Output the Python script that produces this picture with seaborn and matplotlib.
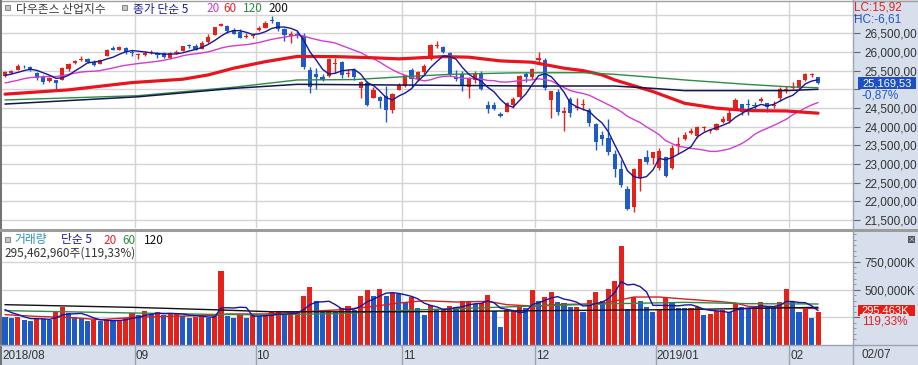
import numpy as np
import pandas as pd
import matplotlib
matplotlib.use("Agg")
import matplotlib.pyplot as plt
import seaborn as sns
from matplotlib.patches import Rectangle
from matplotlib.lines import Line2D
from matplotlib.ticker import FixedLocator, MultipleLocator, FuncFormatter

sns.set_style("white")
plt.rcParams['font.family'] = ['Noto Sans CJK KR', 'DejaVu Sans']

# ---------------- data ----------------
dates = (
    ["2018-08-%02d" % d for d in [3, 6, 7, 8, 9, 10, 13, 14, 15, 16, 17, 20, 21, 22, 23, 24, 27, 28, 29, 30, 31]] +
    ["2018-09-%02d" % d for d in [4, 5, 6, 7, 10, 11, 12, 13, 14, 17, 18, 19, 20, 21, 24, 25, 26, 27, 28]] +
    ["2018-10-%02d" % d for d in [1, 2, 3, 4, 5, 8, 9, 10, 11, 12, 15, 16, 17, 18, 19, 22, 23, 24, 25, 26, 29, 30, 31]] +
    ["2018-11-%02d" % d for d in [1, 2, 5, 6, 7, 8, 9, 12, 13, 14, 15, 16, 19, 20, 21, 23, 26, 27, 28, 29, 30]] +
    ["2018-12-%02d" % d for d in [3, 4, 6, 7, 10, 11, 12, 13, 14, 17, 18, 19, 20, 21, 24, 26, 27, 28, 31]] +
    ["2019-01-%02d" % d for d in [2, 3, 4, 7, 8, 9, 10, 11, 14, 15, 16, 17, 18, 22, 23, 24, 25, 28, 29, 30, 31]] +
    ["2019-02-%02d" % d for d in [1, 4, 5, 6, 7]]
)
month_labels = ["2018/08", "09", "10", "11", "12", "2019/01", "02"]

opens = [
    25350, 25440, 25520, 25600, 25590, 25440, 25320, 25220, 25250, 25260,
    25540, 25700, 25790, 25800, 25730, 25680, 25890, 26110, 26060, 26110,
    26000, 25920, 25930, 25980, 25960, 25960, 25850, 25980, 26030, 26170,
    26150, 26080, 26260, 26460, 26700, 26700, 26580, 26530, 26400, 26420,
    26598, 26650, 26850, 26800, 26620, 26430, 26490, 26440, 25520, 25410,
    25320, 25350, 25690, 25720, 25420, 25520, 25030, 25170, 24780, 24800,
    24820, 24450, 24990, 25100, 25530, 25270, 25460, 25800, 26150, 26130,
    25980, 25320, 25400, 25050, 25250, 25400, 24590, 24580, 24350, 24400,
    24570, 24800, 25400, 25330, 25780, 25780, 24720, 24940, 24360, 24740,
    24500, 24570, 24450, 24060, 23780, 23690, 23280, 22870, 22330, 21860,
    22630, 23200, 23150, 22900, 23180, 22880, 23470, 23680, 23820, 23760,
    23960, 23890, 23920, 24130, 24140, 24480, 24600, 24590, 24570, 24680,
    24620, 24540, 24760, 24970, 25030, 25030, 25240, 25380, 25320]
highs = [
    25480, 25520, 25690, 25650, 25620, 25450, 25380, 25330, 25260, 25600,
    25700, 25780, 25890, 25830, 25790, 25810, 26070, 26170, 26170, 26130,
    26040, 25970, 26030, 26060, 25990, 25990, 26000, 26040, 26170, 26220,
    26200, 26300, 26470, 26680, 26770, 26730, 26630, 26620, 26500, 26480,
    26700, 26830, 26950, 26810, 26640, 26560, 26550, 26500, 25600, 25560,
    25400, 25830, 25830, 25760, 25550, 25570, 25230, 25210, 25070, 24830,
    25100, 24900, 25170, 25390, 25580, 25490, 25690, 26200, 26280, 26170,
    26000, 25520, 25500, 25330, 25500, 25500, 24700, 24660, 24400, 24650,
    24800, 25380, 25460, 25560, 26000, 25830, 24960, 25000, 24530, 24800,
    24770, 24730, 24500, 24100, 23880, 24200, 23380, 23100, 22400, 22880,
    23140, 23380, 23330, 23420, 23180, 23520, 23720, 23860, 23960, 24010,
    24010, 23950, 24090, 24290, 24460, 24780, 24600, 24750, 24650, 24800,
    24640, 24700, 25060, 25090, 25190, 25250, 25440, 25440, 25340]
lows = [
    25330, 25400, 25510, 25560, 25490, 25260, 25140, 25200, 24970, 25250,
    25480, 25680, 25770, 25710, 25620, 25670, 25880, 26040, 26040, 25950,
    25900, 25820, 25900, 25950, 25840, 25830, 25800, 25950, 26020, 26110,
    26040, 26070, 26250, 26450, 26690, 26510, 26470, 26360, 26380, 26380,
    26560, 26640, 26780, 26570, 26300, 26250, 26380, 25550, 24900, 25000,
    25210, 25340, 25430, 25290, 25330, 25260, 24760, 24540, 24760, 24500,
    24120, 24370, 24970, 25050, 25050, 25230, 25420, 25780, 26110, 25960,
    25350, 25220, 24950, 24780, 25160, 24980, 24360, 24450, 24270, 24380,
    24500, 24780, 25200, 25280, 25720, 24980, 24240, 24300, 23880, 24270,
    24450, 24450, 24030, 23380, 23500, 23230, 22640, 22390, 21780, 21710,
    22270, 22990, 23000, 22840, 22640, 22870, 23280, 23650, 23800, 23700,
    23890, 23830, 23900, 24100, 24100, 24450, 24300, 24320, 24480, 24660,
    24380, 24500, 24700, 24900, 25000, 25000, 25230, 25330, 25130]
closes = [
    25462.58, 25502.18, 25628.91, 25583.75, 25509.23, 25313.14, 25187.70, 25299.92, 25162.41, 25558.73,
    25669.32, 25758.69, 25822.29, 25733.60, 25656.98, 25790.35, 26049.64, 26064.02, 26124.57, 25986.92,
    25964.82, 25952.48, 25974.99, 25995.87, 25916.54, 25857.07, 25971.06, 25998.92, 26145.99, 26154.67,
    26062.12, 26246.96, 26405.76, 26656.98, 26743.50, 26562.05, 26492.21, 26385.28, 26439.93, 26458.31,
    26651.21, 26773.94, 26828.39, 26627.48, 26447.05, 26486.78, 26430.57, 25598.74, 25052.83, 25339.99,
    25250.55, 25798.42, 25706.68, 25379.45, 25444.34, 25317.41, 25191.43, 24583.42, 24984.55, 24688.31,
    24442.92, 24874.64, 25115.76, 25380.74, 25270.83, 25461.70, 25635.01, 26180.30, 26191.22, 25989.30,
    25387.18, 25286.49, 25080.50, 25289.27, 25413.22, 25017.44, 24465.64, 24464.69, 24285.95, 24640.24,
    24748.73, 25366.43, 25338.84, 25538.46, 25826.43, 25027.07, 24947.67, 24388.95, 24423.26, 24370.24,
    24527.27, 24597.38, 24100.51, 23592.98, 23675.64, 23323.66, 22859.60, 22445.37, 21792.20, 22878.45,
    23138.82, 23062.40, 23327.46, 23346.24, 22686.22, 23433.16, 23531.35, 23787.45, 23879.12, 24001.92,
    23995.95, 23909.84, 24065.59, 24207.16, 24370.10, 24706.35, 24404.48, 24575.62, 24553.24, 24737.20,
    24528.22, 24579.96, 25014.86, 24999.67, 25063.89, 25239.37, 25411.52, 25390.30, 25169.53]
prior_closes = [24776.59, 24919.66, 24700.45, 24924.89, 25019.41, 25064.36, 25119.89, 25199.29,
                25064.50, 25058.12, 25044.29, 25241.94, 25414.10, 25527.07, 25451.06, 25306.83,
                25415.19, 25333.82, 25326.16]

# moving averages (candle index -> value)
ma60_idx = [0, 10, 20, 28, 32, 36, 41, 46, 52, 57, 62, 69, 73, 78, 83, 88, 91, 94, 96, 102, 107, 112, 117, 123, 128]
ma60_val = [24870, 24985, 25180, 25270, 25385, 25565, 25740, 25880, 25875, 25850, 25815, 25875, 25860,
            25760, 25725, 25565, 25500, 25385, 25250, 24940, 24625, 24495, 24430, 24420, 24360]
ma120_idx = [0, 21, 36, 46, 55, 62, 70, 80, 91, 96, 102, 107, 112, 117, 123, 128]
ma120_val = [24715, 24830, 25055, 25250, 25260, 25330, 25400, 25440, 25445, 25400, 25320, 25250, 25190,
             25130, 25070, 25040]
ma200_idx = [0, 21, 36, 46, 62, 83, 96, 102, 107, 123, 128]
ma200_val = [24605, 24800, 25025, 25133, 25115, 25088, 25088, 25025, 24965, 24965, 25000]

# volume in millions of shares
volumes = [
    249, 245, 252, 228, 219, 244, 238, 228, 303, 340,
    289, 249, 245, 213, 222, 213, 228, 219, 228, 244,
    289, 267, 303, 280, 295, 274, 278, 289, 265, 244,
    250, 258, 244, 258, 665, 258, 244, 280, 244, 280,
    258, 262, 295, 304, 273, 280, 294, 445, 523, 394,
    294, 319, 294, 334, 355, 319, 445, 499, 445, 505,
    445, 469, 463, 385, 433, 334, 273, 364, 313, 319,
    355, 343, 394, 400, 370, 375, 454, 304, 163, 313,
    319, 364, 334, 493, 394, 430, 475, 391, 382, 340,
    346, 301, 409, 475, 400, 508, 580, 896, 325, 433,
    400, 340, 294, 325, 424, 391, 334, 330, 336, 343,
    273, 283, 304, 313, 294, 379, 340, 334, 336, 385,
    346, 334, 391, 508, 385, 301, 325, 247.6, 295.463]
prior_volumes = [380, 340, 330, 300]
vma20_idx = [0, 5, 10, 15, 20, 25, 33, 35, 41, 48, 53, 58, 62, 66, 71, 76, 79, 84, 86, 94, 99, 103, 107, 112, 115, 117, 122, 128]
vma20_val = [274, 258, 249, 228, 249, 258, 267, 280, 280, 304, 319, 349, 379, 400, 388, 394, 364, 349, 364,
             373, 433, 433, 415, 394, 379, 349, 340, 328]
vma60_idx = [0, 20, 33, 42, 53, 63, 74, 85, 96, 107, 117, 128]
vma60_val = [310, 289, 276, 272, 284, 313, 334, 355, 373, 385, 373, 370]
vma120_idx = [0, 20, 33, 42, 63, 85, 96, 107, 117, 128]
vma120_val = [364, 340, 318, 300, 300, 310, 315, 320, 330, 340]

# ---------------- derived ----------------
n = len(closes)
idx = np.arange(n)
o = np.array(opens, float); c = np.array(closes, float)
h = np.maximum(np.array(highs, float), np.maximum(o, c))
l = np.minimum(np.array(lows, float), np.minimum(o, c))
RED = '#E3231B'
BLUE = '#1F5BC6'
cols = np.where(c >= o, RED, BLUE)

allc = pd.Series(prior_closes + closes)
ma5 = allc.rolling(5).mean().values[len(prior_closes):]
ma20 = allc.rolling(20).mean().values[len(prior_closes):]
allv = pd.Series(prior_volumes + volumes)
vma5 = allv.rolling(5).mean().values[len(prior_volumes):]
vol = np.array(volumes, float)
prevv = np.array(prior_volumes[-1:] + volumes[:-1], float)
vdir = np.where(vol > prevv, 'up', 'down')

months = [d[:7] for d in dates]
month_starts = [i for i in range(n) if i == 0 or months[i] != months[i - 1]]
bounds = [s - 0.5 for s in month_starts[1:]]

# ---------------- figure ----------------
W, H = 918, 365
fig = plt.figure(figsize=(W / 100, H / 100), dpi=100)
fig.patch.set_facecolor('white')
PANEL = '#D6DFEB'
GRID = '#D4D4D4'
TXT = '#333333'
NUMF = 'Liberation Sans'


def box(x0, y0, x1, y1):
    return [x0 / W, 1 - y1 / H, (x1 - x0) / W, (y1 - y0) / H]


def fx(x):
    return x / W


def fy(y):
    return 1 - y / H


fig.add_artist(Rectangle((fx(853), 0), 1 - fx(853), 1, transform=fig.transFigure,
                         facecolor=PANEL, edgecolor='none', zorder=-5))

XL = (-0.47, 133.5)

# ---- price panel ----
ax = fig.add_axes(box(2, 2, 853, 228))
ax.set_facecolor('white')
ax.vlines(idx, l, h, colors=cols, lw=1, zorder=3)
body = np.maximum(np.abs(c - o), 20)
ax.bar(idx, body, bottom=np.minimum(o, c), width=0.66, color=cols, linewidth=0, zorder=4)
sns.lineplot(x=idx, y=ma5, ax=ax, color='#16169C', lw=1.0, zorder=6)
sns.lineplot(x=idx, y=ma20, ax=ax, color='#D23CD2', lw=1.0, zorder=5)
sns.lineplot(x=ma60_idx, y=ma60_val, ax=ax, color='#E8141E', lw=2.3, zorder=5)
sns.lineplot(x=ma120_idx, y=ma120_val, ax=ax, color='#2E8B46', lw=1.0, zorder=5)
sns.lineplot(x=ma200_idx, y=ma200_val, ax=ax, color='#14144E', lw=1.1, zorder=5)
ax.set_xlim(*XL)
ax.set_ylim(21287, 27337)
ax.set_xlabel(''); ax.set_ylabel('')
ax.xaxis.set_major_locator(FixedLocator(bounds))
ax.yaxis.set_major_locator(FixedLocator(np.arange(21500, 27001, 500)))
ax.grid(True, color=GRID, lw=1)
ax.set_axisbelow(True)
ax.tick_params(axis='x', length=0, labelbottom=False)
ax.yaxis.tick_right()
ax.yaxis.set_major_formatter(FuncFormatter(
    lambda v, p: '' if (abs(v - 25000) < 1 or v > 26900) else f"{v:,.2f}".replace('.', ',')))
ax.tick_params(axis='y', direction='out', length=5, color='#666666', width=0.8,
               labelsize=8.5, labelcolor=TXT, pad=3)
for tl in ax.get_yticklabels():
    tl.set_fontfamily(NUMF)
for s in ax.spines.values():
    s.set_visible(False)

# ---- volume panel ----
axv = fig.add_axes(box(2, 231, 853, 345))
axv.set_facecolor('white')
vdf = pd.DataFrame({'i': idx, 'vol': vol, 'dir': vdir})
sns.barplot(data=vdf, x='i', y='vol', hue='dir', palette={'up': RED, 'down': BLUE},
            native_scale=True, dodge=False, width=0.8, saturation=1, errorbar=None,
            legend=False, ax=axv, linewidth=0, zorder=3)
sns.lineplot(x=idx, y=vma5, ax=axv, color='#1515A8', lw=1.0, zorder=6)
sns.lineplot(x=vma20_idx, y=vma20_val, ax=axv, color='#D42020', lw=1.0, zorder=5)
sns.lineplot(x=vma60_idx, y=vma60_val, ax=axv, color='#2E8B46', lw=1.0, zorder=5)
sns.lineplot(x=vma120_idx, y=vma120_val, ax=axv, color='#111111', lw=1.0, zorder=5)
axv.set_xlim(*XL)
axv.set_ylim(0, 1029)
axv.set_xlabel(''); axv.set_ylabel('')
axv.xaxis.set_major_locator(FixedLocator(bounds))
axv.yaxis.set_major_locator(FixedLocator([250, 500, 750]))
axv.yaxis.set_minor_locator(MultipleLocator(50))
axv.grid(True, which='major', color=GRID, lw=1)
axv.set_axisbelow(True)
axv.tick_params(axis='x', length=0, labelbottom=False)
axv.yaxis.tick_right()
axv.yaxis.set_major_formatter(FuncFormatter(
    lambda v, p: '' if v < 300 else f"{int(round(v * 1000)):,}K"))
axv.tick_params(axis='y', which='major', direction='out', length=5, color='#666666', width=0.8,
                labelsize=8.5, labelcolor=TXT, pad=3)
axv.tick_params(axis='y', which='minor', direction='out', length=2, color='#888888', width=0.6)
for tl in axv.get_yticklabels():
    tl.set_fontfamily(NUMF)
for s in axv.spines.values():
    s.set_visible(False)

# ---- date axis ----
axd = fig.add_axes(box(2, 345, 853, 365))
axd.set_facecolor(PANEL)
axd.set_xlim(*XL)
axd.set_ylim(0, 1)
axd.set_xticks([]); axd.set_yticks([])
for s in axd.spines.values():
    s.set_visible(False)
axd.vlines(bounds, 0, 1, color='#9AA3AE', lw=1)
label_pos = [XL[0] + 0.1] + [b + 0.1 for b in bounds]
for xp, lab in zip(label_pos, month_labels):
    axd.text(xp, 0.47, lab, fontsize=8.5, color=TXT, va='center', ha='left', fontfamily=NUMF)


# ---- frame lines ----
def hline(y, x0, x1, color, lw):
    fig.add_artist(Line2D([fx(x0), fx(x1)], [fy(y), fy(y)], transform=fig.transFigure, color=color, lw=lw, zorder=20))


def vline(x, y0, y1, color, lw):
    fig.add_artist(Line2D([fx(x), fx(x)], [fy(y0), fy(y1)], transform=fig.transFigure, color=color, lw=lw, zorder=20))


hline(0.5, 0, W, '#A0A0A0', 1)
vline(0.7, 0, H, '#707070', 1.4)
hline(229.5, 0, W, '#9C9C9C', 2.2)
hline(345, 0, W, '#9AA3AE', 1)
vline(853, 0, H, '#9AA3AE', 1)


# ---- header texts ----
def marker(x, y):
    fig.add_artist(Rectangle((fx(x), fy(y + 5)), 5 / W, 5 / H, transform=fig.transFigure,
                             facecolor='#C8C8C8', edgecolor='#8A8A8A', lw=0.8, zorder=21))


def t(x, y, s, color, size=8.5, **kw):
    fig.text(fx(x), fy(y), s, color=color, fontsize=size, va='center', ha='left', zorder=22, **kw)


marker(5, 5)
t(16, 9, '다우존스 산업지수', '#3A3A3A')
marker(122, 5)
t(133, 9, '종가 단순 5', '#1A1AA0')
t(206, 9, '20', '#CC3ACC')
t(223, 9, '60', '#D8262C')
t(243, 9, '120', '#2E8B46')
t(268, 9, '200', '#111111')

marker(5, 237)
t(14, 240, '거래량', '#2B8FB3')
t(61, 240, '단순 5', '#1A1AA0')
t(103, 240, '20', '#D8262C')
t(122, 240, '60', '#2E8B46')
t(144, 240, '120', '#111111')
t(4, 253, '295,462,960주(119,33%)', '#333333')

# ---- right axis annotations ----
t(854, 7.5, 'LC:15,92', '#E02020', 8.5, fontfamily=NUMF)
t(854, 19, 'HC:-6,61', '#2456C8', 8.5, fontfamily=NUMF)
fig.add_artist(Rectangle((fx(858), fy(89)), 58 / W, 12 / H, transform=fig.transFigure,
                         facecolor='#1E50C3', edgecolor='none', zorder=21))
t(862, 83, '25,169,53', 'white', 8, fontfamily=NUMF)
t(862, 95, '-0,87%', '#2456C8', 8.5, fontfamily=NUMF)

fig.add_artist(Rectangle((fx(858), fy(316)), 57 / W, 11 / H, transform=fig.transFigure,
                         facecolor='#E41E12', edgecolor='none', zorder=21))
t(861, 310.5, '295,463K', 'white', 8, fontfamily=NUMF)
t(862, 321.5, '119,33%', '#E02020', 8.5, fontfamily=NUMF,
  bbox=dict(boxstyle='square,pad=0.15', facecolor=PANEL, edgecolor='none'))
fig.add_artist(Rectangle((fx(908), fy(243)), 7 / W, 7 / H, transform=fig.transFigure,
                         facecolor='#555555', edgecolor='none', zorder=21))
fig.text(fx(911.5), fy(239.5), '×', color='white', fontsize=5.5, ha='center', va='center', zorder=22)
t(862, 354.5, '02/07', TXT, 8.5, fontfamily=NUMF)

fig.savefig('out.png', dpi=100, facecolor='white')
